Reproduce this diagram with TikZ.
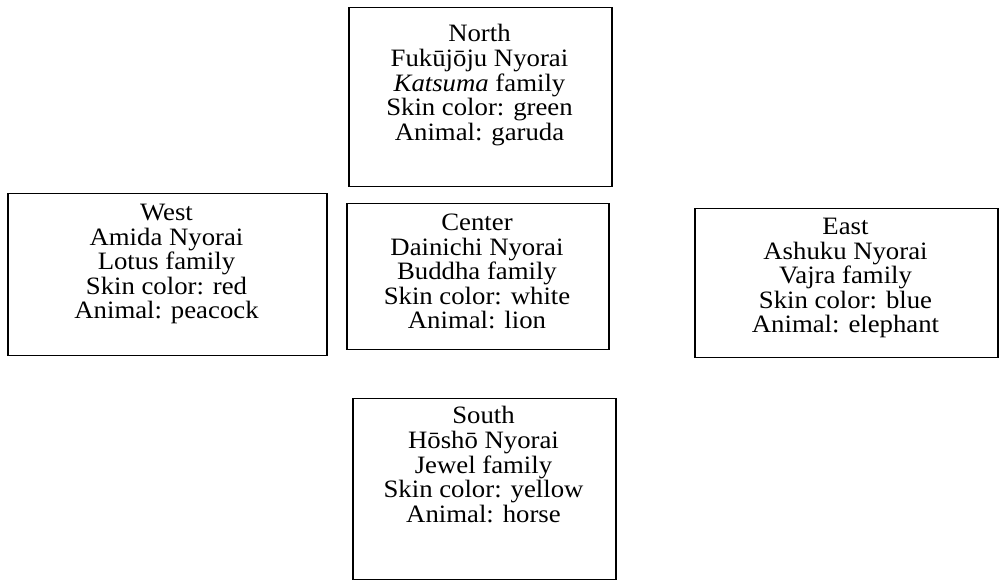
\documentclass[tikz,border=0pt]{standalone}
\usepackage{fontspec}
\setmainfont{Liberation Serif}[FakeStretch=1.07]
\begin{document}
\begin{tikzpicture}[x=1pt,y=1pt,
  boxnode/.style={draw=black, line width=1.5pt, rectangle, inner sep=0pt, anchor=north west},
  txt/.style={inner sep=0pt, anchor=base, font=\fontsize{25}{24}\selectfont}]
\useasboundingbox (0,0) rectangle (1004,585);
\newcommand{\lines}[1]{\setlength{\tabcolsep}{0pt}\begin{tabular}[t]{c}#1\end{tabular}}
% boxes (top-left at y measured from top)
\node[boxnode, minimum width=263pt, minimum height=179pt] (N) at (348,585-7) {};
\node[boxnode, minimum width=319pt, minimum height=162pt] (W) at (7,585-193) {};
\node[boxnode, minimum width=262pt, minimum height=146pt] (C) at (346,585-203) {};
\node[boxnode, minimum width=303pt, minimum height=149pt] (E) at (694,585-208) {};
\node[boxnode, minimum width=263pt, minimum height=181pt] (S) at (352,585-398) {};
% texts
\node[txt] (Nt) at (479.5,585-41.7) {\lines{North\\Fukūjōju Nyorai\\\textit{Katsuma} family\\Skin color: green\\Animal: garuda}};
\node[txt] (Wt) at (166.5,585-220.5) {\lines{West\\Amida Nyorai\\Lotus family\\Skin color: red\\Animal: peacock}};
\node[txt] (Ct) at (477,585-230.5) {\lines{Center\\Dainichi Nyorai\\Buddha family\\Skin color: white\\Animal: lion}};
\node[txt] (Et) at (845.5,585-234.5) {\lines{East\\Ashuku Nyorai\\Vajra family\\Skin color: blue\\Animal: elephant}};
\node[txt] (St) at (483.5,585-424) {\lines{South\\Hōshō Nyorai\\Jewel family\\Skin color: yellow\\Animal: horse}};
\end{tikzpicture}
\end{document}
